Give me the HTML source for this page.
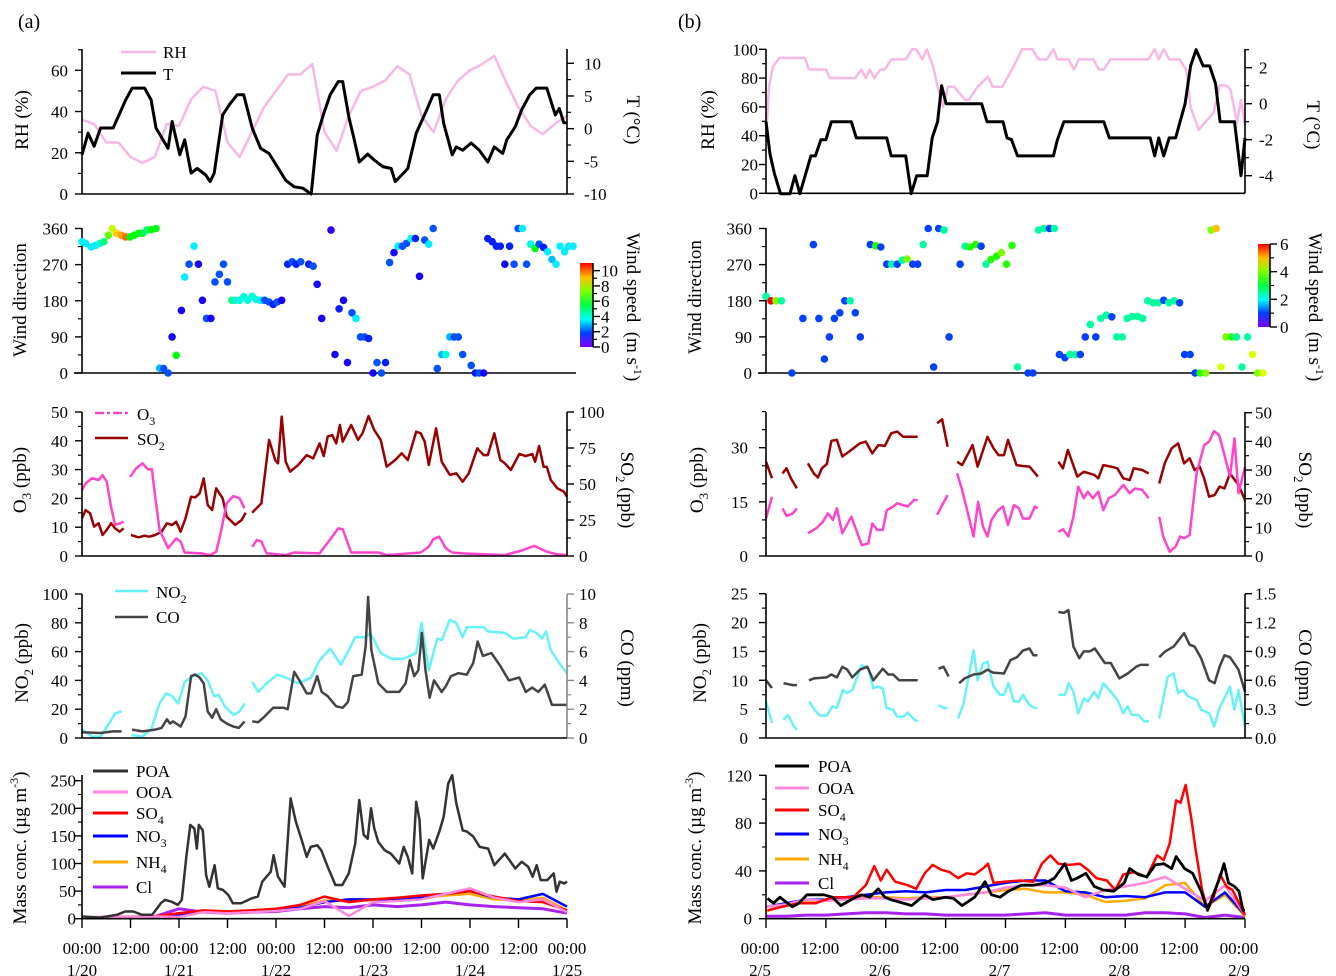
<!DOCTYPE html>
<html><head><meta charset="utf-8">
<style>
body{margin:0;background:#fff}
svg{display:block;font-family:"Liberation Serif",serif}
</style></head><body>
<svg id="chart" width="1336" height="976" viewBox="0 0 1336 976" xmlns="http://www.w3.org/2000/svg">
<defs>
<linearGradient id="cbar" x1="0" y1="1" x2="0" y2="0">
<stop offset="0" stop-color="hsl(270,100%,50%)"/><stop offset="0.17" stop-color="hsl(225,100%,50%)"/>
<stop offset="0.33" stop-color="hsl(180,100%,50%)"/><stop offset="0.5" stop-color="hsl(135,100%,50%)"/>
<stop offset="0.67" stop-color="hsl(90,100%,50%)"/><stop offset="0.83" stop-color="hsl(45,100%,50%)"/>
<stop offset="1" stop-color="hsl(0,100%,50%)"/>
</linearGradient>
</defs>
</svg>
<script>
// ===== LEFT (a) DATA =====
const rhHoursL=[0,3,6,9,12,15,18,21,24,27,30,33,36,39,42,45,48,51,54,57,60,63,66,69,72,75,78,81,84,87,90,93,96,99,102,105,108,111,114,117,120];
const rhL=[36,34,25,25,18,15,18,34,33,46,52,50,25,18,30,42,50,58,58,63,30,21,38,50,52,55,62,58,38,30,46,55,60,63,67,54,42,33,29,34,38];
const tHoursL=[0,1.5,3,4.6,7.7,9.3,10.8,12.4,15.5,17.1,18.3,21.3,22.3,24.2,25.4,27,28.5,30.6,31.7,32.7,34.8,36.4,38.4,40,42.1,44.2,46.3,50.4,52.5,54.6,56.7,58.2,59.8,61.4,63.4,64.5,66,67.1,68.6,70.7,72.3,74.4,76.5,77.5,79.1,80.6,82.7,85.3,86.9,88.4,89.5,91.6,92.6,94.2,96.3,98.3,100.4,102,104.1,105.1,107.2,108.8,110.8,112.4,115,117.1,118.1,119.2,120];
const tL=[-4,-0.7,-2.7,0.1,0.1,2.3,4.4,6.2,6.2,4.4,0.1,-3,1.1,-4,-1.7,-6.8,-6.1,-7.1,-8.1,-6.8,2.1,3.6,5.2,5.2,0.1,-3,-3.8,-7.9,-8.9,-9.1,-10,-1,2.3,5.2,7.2,7.2,1.8,-1,-5.1,-3.9,-4.8,-5.8,-6.1,-8.1,-7.1,-6.1,-0.7,2.9,5.2,5.2,0.8,-4,-2.8,-3.3,-2.2,-3.3,-5.1,-2.8,-3.8,-1.7,0.3,2.9,5.2,6.2,6.2,2.1,3.1,0.9,0.9];
const windHoursL=[0,0.9,2.3,3.3,4.4,5.4,6.5,7.5,8.5,9.8,10.8,11.9,12.9,14,15,16,17.1,18.3,19.2,20.2,21.3,22.3,23.3,24.6,25.4,26.5,27.7,28.8,29.8,30.8,31.9,32.9,34,35,36,37.1,37.9,39,40,41,42.1,43.1,44.2,45.2,46.3,47.3,48.3,49.4,50.9,52,53,54.1,56.1,57.2,58.2,59.3,61.6,62.6,63.6,64.7,65.7,66.8,67.8,68.9,69.9,70.9,72,73,74.1,75.1,76.1,77.2,78.2,79.3,80.3,81.4,82.5,83.5,84.8,85.8,86.9,87.9,89,90,91,92.1,93.1,94.2,96.3,97.3,98.3,99.4,100.4,101.5,102.5,103.5,104.6,105.8,106.9,107.9,109,110,111,112.1,113.1,114.2,115.2,116.3,117.3,118.3,119.4,120.4,121.5];
const windDirL=[327,323,314,318,323,327,343,360,348,343,339,339,343,348,348,356,357,360,12,11,0,90,44,156,239,271,316,271,181,136,136,227,246,271,227,181,181,181,190,181,191,183,181,181,177,171,177,181,271,277,271,277,271,266,221,136,356,46,160,181,26,150,136,90,90,86,0,26,0,26,275,300,316,316,323,335,335,241,331,321,360,11,46,46,90,90,90,46,19,0,0,0,335,327,316,316,271,316,271,360,360,271,321,310,321,313,302,283,271,316,302,316,316];
const windSpdL=[3.5,3.5,3.5,3.5,4,5,7,8,9,9.5,10,6,6,6,5.5,5,6,6,3,2,2,1,6,1,3.5,2,3.5,1,1,2,1,2,2,2,2,5,4,4,4,4,4,4,3.5,2,2,1.5,2,1,1.5,2,1.5,2,1.5,2,1,1,0.8,1,1.5,1,1,2,3.5,2,2,1.5,1,2,2,1.5,2,1,3.5,2,2,4,1.5,1,2,3.5,2,2,3,4,3,2,2,2,2,1.5,2,1,1.5,1.5,1.5,1.5,1,1.5,2,2,3.5,2,4,6,2,1.5,3.5,3,3.5,3.5,3.5,3.5,3.5];
const o3HoursL=[0,0.9,2.5,4.1,5.1,6.1,7.2,8.2,9.3,10.3,null,11.9,13.4,15,16.3,17.3,18.1,19.2,21.3,23.3,24.4,25.4,29.6,31.7,33.2,34.3,35.8,37.4,39,40.2,null,42.1,43.3,44.4,45.7,50.4,52.5,58.8,61.9,63.4,64.5,66.6,73.3,75.4,83.8,85.8,86.9,88.4,90,91.6,94.2,104.6,108.8,111.9,115,117.1,120];
const o3L=[22.9,25.2,27,26.4,28.1,25.8,17,10.8,11.3,11.9,null,27.5,30.4,32.2,30.1,30.1,20.6,9,2.7,6.1,5,1.2,0.9,0.3,1.5,7.9,18.3,20.8,20,16.6,null,3.2,5.6,5,0.9,0.3,1.2,0.9,6.7,9.6,9.3,1.2,1.2,0.3,1.2,3.2,5.8,6.7,2.7,1.2,0.9,0.3,1.9,3.5,1.5,0.7,0.3];
const so2HoursL=[0,0.9,2,3,4.1,5.1,6.1,7.2,8.2,9.3,10.3,null,12.1,14,15.5,16.6,18.1,19.7,21,22.3,23.3,24.4,25.6,27,28,29.1,30.1,31.1,32.2,33.2,34.8,35.8,37.9,39.5,40.5,null,42.1,44.4,46.3,47.8,48.5,49.4,50.4,51.5,53.5,55.6,57.2,58.8,59.8,60.8,61.9,62.9,63.8,64.5,66.6,68.3,69.4,70.9,72.3,73.9,75.4,77.5,79.1,80.6,82.7,83.8,84.8,85.8,87.6,89,91,92.6,94.2,95.7,97.8,99.4,100.4,102,103.5,104.6,106.1,108.2,109.8,111.4,112.1,113.1,114.2,115,116,117.6,119.2,120];
const so2L=[26.2,31.9,29.6,20.4,22.7,14.6,18.1,22.7,19.2,16.9,19.2,null,14.6,13,14.1,13.4,14.6,16.9,22.7,21.5,23.8,16.9,26.2,41.2,40.7,43.5,53.9,35.4,31.9,47,40,27.3,21.5,25,30.1,null,30.1,36.6,80.6,66.7,64.4,96.8,65.5,58.6,63.2,70.1,67.8,78.2,69.4,82.9,84,78.2,91,79.4,91,80.6,85.2,97.2,87.5,80.6,62,66.7,71.3,66.7,86.3,85.2,79.4,63.2,88.7,65.5,56.3,57.4,51.6,57.4,74.8,70.1,70.1,85.2,66.7,64.4,59.7,70.8,69.4,70.8,65.5,76.4,62,62,52.8,47,44.7,41.2];
const no2HoursL=[0,2.5,4.6,6.7,8.2,9.8,null,12.3,15,17.1,19.2,20.8,22.3,23.8,25.4,27.5,29.6,31.1,32.7,33.8,35.3,37.5,39,40.2,null,42.1,43.6,45.7,48.3,50.4,53.5,56.7,58.8,61.4,64,66,67.6,70.2,71.3,73.9,76.5,79.6,82.7,84,85.8,87.9,89,91,92.6,94.2,95.2,99.4,100.4,104.6,106.7,109.8,110.8,112.4,113.9,114.8,116,118.1,120];
const no2L=[6,1,1,10,17,18.5,null,2,1,6,24,31,29,24,39,43,45,40,29,30,22,16,18.5,24,null,39,32,38,44,42,38,42,54,62,51,61,70,70,73,59,55,55,59,80,47,69,68,82,80,70,77,77,74,73,69,70,75,73,69,74,61,52,45];
const coHoursL=[0,4.6,7.7,9.8,null,12.4,15,18.1,19.7,21,21.8,22.5,23.3,24.4,25.6,27,28,29.1,30.1,31.1,32.2,33.2,34.3,35.8,37.4,38.8,40.2,null,42.1,43.6,45.2,47.3,49.9,50.9,52.5,53.8,55.6,56.7,58.2,59.3,60.8,62.9,64.5,65.8,67.1,69.2,70.2,70.8,71.6,73.3,75.4,78.5,80.1,81.1,82.2,83.2,84.1,85,86,87.1,89,90,91.3,93.1,95.2,96.8,97.9,99.2,101.3,103.5,105.6,108.2,109.8,111.4,112.9,114.5,116.3,118.1,120];
const coL=[0.4,0.35,0.46,0.46,null,0.58,0.46,0.58,0.7,1.3,1,1.15,1,0.8,1.5,4.3,4.4,4.2,3.8,1.85,1.4,2,1.3,1,0.8,0.7,1.15,null,1.15,1.1,1.5,2.1,2.1,2,4.6,4,3.1,3.1,4.3,3.2,2.9,2.2,2.1,2.5,4.3,4.4,6.4,9.8,6.1,3.8,3.2,3.2,3.8,5.4,4.3,4.7,7.3,4.7,2.8,4,3.2,3.6,4.3,4.5,4.4,5.2,6.7,5.7,5.9,5,4,4.2,3.2,3.5,3.2,3.7,2.3,2.3,2.3];
const poaHoursL=[0,4.4,8.6,10.7,12.7,14.8,17.4,19.5,20.5,22.1,23.7,24.7,25.8,26.8,27.8,28.4,28.9,29.9,30.7,31.5,32.8,33.6,34.9,36.2,37.3,39.4,42,43.5,44.6,46.7,47.4,48.5,50.1,51.6,52.9,54.5,55.6,56.6,58.2,59.2,60.8,62.7,64.4,66,67.6,68.6,69.7,70.7,71.5,72.3,73.3,74.9,76.4,78.5,79.6,80.6,81.7,82.7,83.5,84.3,85.9,86.9,88.5,89.5,90.6,91.6,92.6,94.2,95.2,96.8,98.4,100.5,102,104.6,107.2,108.8,110.4,111.5,112.5,113.5,115.1,116.7,117.4,118.2,119.3,120];
const poaL=[4,2,7,13,13,7,7,28,34,31,25,34,112,170,163,127,170,160,79,58,97,55,52,43,28,28,37,40,67,85,115,76,58,218,176,139,112,130,133,124,94,61,61,82,136,215,152,145,200,164,139,124,118,100,130,112,82,212,179,73,143,127,160,185,245,260,209,160,158,149,130,127,97,118,91,103,94,76,97,70,70,82,49,67,64,67];
const minorHoursL=[0,6,12,18,24,30,36,42,48,54,60,66,72,78,84,90,96,102,108,114,120];
const so4L=[2,3,3,4,10,15,13,15,18,25,40,30,35,38,42,45,50,40,32,30,15];
const no3L=[1,2,2,3,8,12,12,14,16,20,30,35,35,35,38,45,50,38,35,45,22];
const nh4L=[2,2,3,4,10,14,13,15,18,22,33,32,34,35,38,42,45,35,33,38,15];
const ooaL=[3,3,3,4,3,12,10,12,14,18,32,5,30,32,35,45,55,38,30,35,12];
const clL=[2,2,3,4,18,12,10,12,13,18,22,20,25,22,25,30,25,22,20,18,10];
const xTickHoursL=[0,12,24,36,48,60,72,84,96,108,120];
const xTimeLabelsL=["00:00","12:00","00:00","12:00","00:00","12:00","00:00","12:00","00:00","12:00","00:00"];
const xDateLabelsL=["1/20","","1/21","","1/22","","1/23","","1/24","","1/25"];

// ===== RIGHT (b) DATA =====
const rhHoursR=[0,0.6,1.4,2.7,7.8,8.6,12,12.8,17.9,19.1,20,20.8,21.7,22.9,23.8,25.1,28,29.3,30.1,31.3,32.2,33.5,34.4,35.5,36.5,37.7,39.9,40.7,42.4,44.5,45.4,47.4,49.6,51.3,53.4,54.6,56.3,57.6,58.4,60.6,61.7,62.7,65.6,66.7,67.7,69,76.6,77.9,78.7,79.7,80.8,82.9,84.2,85.1,86.7,88.4,89.7,90.9,92.2,93.1,94.4,95.2,96];
const rhR=[38,74,88,94,94,86,86,80,80,86,80,86,80,86,86,93,93,100,100,93,100,88,74,60,74,74,65,65,74,81,74,74,88,100,100,93,93,100,93,93,86,93,93,86,86,93,93,100,93,100,93,93,86,60,44,51,56,75,75,72,49,65,47];
const tHoursR=[0,0.8,1.7,2.9,4.8,5.8,6.8,9,9.9,11,12,13.1,17.1,18.1,24.2,25.1,28,29.1,30.2,32.3,33.3,34.4,35.2,36.1,43.2,44.3,47.5,48.3,49.2,50.4,57.6,58.4,59.7,67.7,68.8,77,77.9,78.7,79.7,80.8,82.1,84,85.1,86.2,87.6,88.9,90.1,91,93.9,95.2,96];
const tR=[-1,-2.8,-3.9,-5,-5,-4,-5,-2.9,-2.9,-2,-2,-1,-1,-1.9,-1.9,-2.9,-2.9,-5,-4,-4,-1.9,-1,1,0,0,-1,-1,-1.9,-2,-2.9,-2.9,-2,-1,-1,-1.9,-1.9,-2.9,-1.9,-2.9,-1.9,-1.9,0,2.1,3,2.1,2.1,1.1,-1,-1,-4,-1.9];
const windHoursR=[0,1,2,3.1,5.2,7.4,9.5,10.6,11.7,12.7,13.7,14.8,15.8,16.9,17.9,18.9,20.9,22,23,24.2,25.2,26.3,27.3,28.3,29.4,30.4,31.5,32.5,33.6,34.6,35.7,36.7,38.9,39.9,40.9,42,43.1,44.1,45.1,46.2,47.2,48.2,49.3,50.4,52.5,53.5,54.6,55.7,56.8,57.8,58.8,59.9,60.9,62,63,64,65,66.1,67.1,68.2,69.3,70.3,71.4,72.4,73.4,74.5,75.5,76.5,77.6,78.6,79.7,80.7,81.8,82.9,83.9,85,86,87,88.1,89.2,90.2,91.2,92.2,93.3,94.3,95.4,96.5,97.5,98.5,99.6];
const windDirR=[191,180,180,180,0,136,320,136,35,90,136,150,180,180,150,90,320,317,314,271,271,271,281,284,271,271,320,360,15,360,356,90,271,316,314,320,316,271,283,291,300,271,318,15,0,0,356,360,360,360,46,38,46,46,46,90,121,90,136,144,140,90,90,136,141,141,136,180,175,175,181,175,180,175,46,46,0,0,0,356,360,15,90,90,90,15,90,46,0,0];
const windSpdR=[2.5,6,4,2.5,1,1,1,1,1,1,1,1,1,2.5,1,1,1,3.5,1,1,2.5,1,2.5,4,1,1,2.5,1,1,1,2.5,1,1,2.5,3.5,3.5,1,2.5,3.5,3.5,4,3.5,3.5,2.5,1,1,2.5,2.5,1,2.5,1,1,2.5,2.5,1,1,2.5,1,2.5,2.5,1,2.5,2.5,2.5,2.5,2.5,2.5,2.5,2.5,2.5,1,2.5,2.5,1,1,1,1,3.5,4,4,5,4.5,4,3.5,2.5,2.5,2.5,4.5,4,4.5];
const o3HoursR=[0,1.2,null,3.3,4.1,5.4,6.2,null,8.4,10.1,11.4,12.4,13.4,14.2,15.3,17.1,19.2,20.5,21.3,22.3,23.4,24.2,25.5,26.3,28.4,29.7,30.4,null,34.3,36.4,null,38.3,39.3,41.6,42.5,43.5,44.4,45.2,46.5,47.5,48.5,49.7,50.7,51.5,52.8,53.9,54.5,null,58.6,59.5,60.6,61.6,62.6,63.7,64.5,65.5,66.6,67.6,68.7,69.9,71.6,72.9,74,75.4,76.7,null,78.8,79.6,80.9,82.1,83,83.8,84.9,86.3,87.8,88.8,89.8,90.8,91.8,93,93.9,94.7,96];
const o3R=[10.4,16.4,null,13.2,11.1,11.8,13.2,null,6.3,7.7,9.5,11.8,10,13.2,6.3,10.9,3,3.5,9,7.2,7.2,12.7,13.7,14.6,13.7,15.5,15.5,null,11.4,16.9,null,22.9,18.3,5.4,15,8.1,5.4,10,12.7,13.7,8.6,14.1,13.2,10.4,10.4,13.7,13.2,null,6.7,7.4,5.4,10.9,19.2,16,17.8,16,17.8,12.7,16,16.9,19.7,17.4,18.7,18.3,16,null,10.9,5.4,1.2,2.6,5.4,4.9,5.8,22.9,30.7,31.7,34.6,33.5,28.4,22,32.6,17.4,24.7];
const so2HoursR=[0,1.2,null,3.3,4.1,5,6.2,null,8.4,9.6,10.4,11.2,12.2,13.1,14.2,15.3,17.1,18.8,20,21.3,22.5,23.8,25.1,26.3,27.5,28.9,30.4,null,34.3,35.3,36.4,null,38.3,39.3,41.4,42.4,44.4,45.6,46.6,47.7,48.5,50.2,51.5,52.8,54.5,null,58.6,59.5,60.5,62.4,63.7,65.8,66.6,67.6,69.1,70.4,71.6,72.9,73.7,75.4,76.7,null,78.8,79.9,81.3,82.6,83.8,84.9,85.9,86.9,87.8,88.8,89.9,90.9,91.9,93,94.7,96];
const so2R=[32.9,27.1,null,28.8,30.6,27.1,23.6,null,32.3,28.8,27.4,30.6,32.1,40.2,40.5,34.7,37,39.3,39.9,35.8,38.7,38.4,42.8,43.4,41.6,41.6,41.6,null,46.3,47.7,38.1,null,32.9,31.7,38.7,31.2,41.6,37.6,35.2,35.2,40.5,31.7,31.4,31.2,27.7,null,32.9,30.6,37,27.7,29.4,28.3,27.1,31.7,31.2,30.6,27.1,26.5,30.6,30,28.8,null,25.3,32.3,37.6,39.3,32.3,34.1,30,31.2,27.1,20.7,21.3,24.2,23.6,28.8,24.8,19.5];
const no2HoursR=[0,1.2,null,3.5,4.4,5.4,6.2,null,8.6,10,10.8,12.2,13.3,14.2,15.4,16.3,17.3,19.2,20.5,21.5,22.3,23.4,24.2,25.5,26.3,27.6,28.4,29.7,30.4,null,34.6,35.6,36.4,null,38.5,39.6,41.6,42.4,43.5,44.4,45.6,46.9,47.7,48.6,49.7,50.7,51.5,52.8,53.9,54.4,null,58.6,59.9,60.7,61.6,62.6,63.7,64.5,65.8,66.6,67.6,69.1,70.4,71.6,72.5,73.3,74.6,75.8,76.7,null,78.8,80.5,81.7,82.6,83.6,84.6,86.3,87.2,88.8,89.8,90.9,93,93.9,94.7,96];
const no2R=[6.3,2.6,null,3.2,4,2.3,1.4,null,6.3,4.6,3.9,3.9,5.5,5.2,8.3,7.8,8.3,12.6,12.1,8.6,8.9,8.6,5.2,4.9,3.7,3.7,4.4,3.2,2.9,null,5.7,5.2,5.2,null,3.4,6,15.2,10,12.9,13.2,8.9,7.5,7.5,9.5,6.3,6.3,7.5,5.7,5.2,5.2,null,7.5,7.5,9.5,8,4.3,6.9,6.3,8,6.9,9.5,8,6.6,4.3,5.5,4,4,2.9,2.9,null,3.4,10.6,11.2,7.8,8.3,7.2,6.6,4.9,4.3,2,5.2,8.9,4.9,8.3,2];
const coHoursR=[0,1.2,null,3.5,5.4,6.2,null,8.6,9.6,12.1,13.1,14.2,15.3,16.3,17.3,18.8,20.3,21.5,23.4,24.5,25.5,26.7,28.9,30.4,null,34.6,35.6,36.6,null,38.7,39.8,41.6,43.1,44.4,45.5,47.7,49,50.3,51.5,52.8,53.6,54.4,null,58.6,59.7,60.6,61.6,62.8,63.7,64.9,65.9,67.9,69.1,70.8,72.5,74.2,75,76.7,null,78.8,80,81.7,83.8,84.9,85.9,87.2,88.8,89.9,90.9,91.9,93,94.7,96];
const coR=[0.6,0.52,null,0.57,0.55,0.55,null,0.6,0.62,0.63,0.66,0.63,0.74,0.71,0.63,0.71,0.74,0.6,0.72,0.66,0.66,0.6,0.6,0.6,null,0.72,0.74,0.64,null,0.57,0.62,0.66,0.67,0.71,0.68,0.67,0.81,0.84,0.91,0.93,0.86,0.86,null,1.31,1.3,1.33,0.95,0.83,0.9,0.9,0.93,0.78,0.78,0.62,0.67,0.74,0.76,0.76,null,0.84,0.9,0.95,1.09,0.97,0.95,0.83,0.6,0.57,0.74,0.86,0.84,0.71,0.48];
const poaHoursR=[0.3,1.5,2.8,4,5.3,6.6,8.2,11.6,13.3,15,17.5,19.2,20.8,22.5,23.8,25,26.7,29.2,31.8,33.4,36,37.6,39.3,41.8,43.9,45.2,46.9,48.6,51.1,53.6,56.1,57.8,59.9,61.2,62.4,64.1,65.8,67.6,69.7,71.8,72.9,74.6,76.3,78,79.7,81.3,82.2,83.9,85.5,87.2,88.5,89.7,91,91.8,92.7,93.9,94.8,95.6,96];
const poaR=[17,13,18,14,10,13,20,20,18,11,17,20,18,25,18,16,14,11,20,16,18,17,11,18,31,20,18,23,28,28,30,34,46,32,34,38,27,24,23,30,42,37,35,45,46,42,52,42,38,23,7,21,35,46,30,27,23,7,7];
const so4HoursR=[0.3,3.2,6.6,10,13.3,17.5,20,21.7,23,24.2,25.9,28.4,30.1,31.8,33.4,35.1,36.8,38.5,40.2,41.8,43.5,44.5,45.6,47.7,51.1,53.6,55.3,57,58.6,60.8,62.9,64.5,66.2,68.3,70,71.6,73.8,76.3,78.4,79.7,80.9,82.2,83.1,84.1,85.2,86.1,87.4,88.5,89.7,91,92.3,93.5,94.8,96];
const so4R=[7,10,13,13,18,18,28,44,32,41,31,28,25,38,45,41,39,34,38,37,42,46,30,31,32,31,46,53,46,45,46,41,34,32,24,37,39,35,53,49,63,99,97,112,85,58,24,7,18,37,27,24,13,3];
const minorHoursR=[0,4,8,12,16,20,24,28,32,36,40,44,48,52,56,60,64,68,72,76,80,84,88,92,96];
const ooaR=[10,12,16,15,16,17,17,16,17,18,20,22,26,28,28,26,18,24,27,30,35,25,15,28,3];
const no3R=[10,13,16,16,18,20,22,23,22,24,24,27,30,32,32,23,22,18,19,18,22,22,10,22,3];
const nh4R=[6,12,15,15,17,18,18,17,18,18,20,22,24,25,22,22,20,14,15,17,28,30,10,20,2];
const clR=[2,2,3,3,4,5,5,4,4,3,3,3,3,4,5,3,3,3,3,5,5,4,1,3,1];
const xTickHoursR=[0,12,24,36,48,60,72,84,96];
const xTimeLabelsR=["00:00","12:00","00:00","12:00","00:00","12:00","00:00","12:00","00:00"];
const xDateLabelsR=["2/5","","2/6","","2/7","","2/8","","2/9"];

// ===== DRAWING =====
const NS='http://www.w3.org/2000/svg';
const svg=document.getElementById('chart');
function mk(tag,a,parent){const e=document.createElementNS(NS,tag);for(const k in a)e.setAttribute(k,a[k]);(parent||svg).appendChild(e);return e;}
function sc(v0,y0,v1,y1){return v=>y0+(v-v0)*(y1-y0)/(v1-v0);}
const XL=h=>82+h*485/120, XR=h=>766+h*479/96;

function series(hours,vals,xf,yf,color,w,name){
  let d='',pen=false;
  for(let i=0;i<hours.length;i++){
    if(hours[i]===null||vals[i]===null||vals[i]===undefined){pen=false;continue;}
    d+=(pen?'L':'M')+xf(hours[i]).toFixed(1)+','+yf(vals[i]).toFixed(1);pen=true;
  }
  const p=mk('path',{d:d,fill:'none',stroke:color,'stroke-width':w,'stroke-linejoin':'round'});
  
  
  return p;
}
function txt(x,y,html,a,name){
  const t=mk('text',Object.assign({x:x,y:y,'font-size':17,fill:'#000'},a||{}));
  t.innerHTML=html;
  
  
  return t;
}
function vlabel(cx,cy,html,side,name){
  const rot=side==='left'?-90:90, dx=side==='left'?6:-6;
  const t=mk('text',{transform:'translate('+(cx+dx)+','+cy+') rotate('+rot+')','text-anchor':'middle','font-size':19,fill:'#000'});
  t.innerHTML=html;
  
  
}
function yaxis(x,yb,yt,yf,ticks,labels,minors,side,off,color,name){
  const g=mk('g',{});
  
  
  mk('line',{x1:x,y1:yb,x2:x,y2:yt,stroke:color,'stroke-width':1.6},g);
  const s=side==='left'?-1:1;
  ticks.forEach((v,i)=>{const y=yf(v);
    mk('line',{x1:x,y1:y,x2:x+s*7,y2:y,stroke:color,'stroke-width':1.4},g);
    const t=mk('text',{x:x+s*off,y:y+6,'font-size':17,'text-anchor':side==='left'?'end':'start',fill:'#000'},g);
    t.textContent=labels[i];});
  minors.forEach(v=>{const y=yf(v);mk('line',{x1:x,y1:y,x2:x+s*4,y2:y,stroke:color,'stroke-width':1.2},g);});
}
function xaxis(x0,x1,y,name){
  const l=mk('line',{x1:x0,y1:y,x2:x1,y2:y,stroke:'#000','stroke-width':1.6});
  
  
}
function legendLine(x0,x1,y,color,w,dash,name){
  const a={x1:x0,y1:y,x2:x1,y2:y,stroke:color,'stroke-width':w};
  if(dash)a['stroke-dasharray']=dash;
  const l=mk('line',a);
  
  
}
function hueColor(t){if(!(t>=0))t=0.3;t=Math.max(0,Math.min(1,t));return 'hsl('+(270*(1-t)).toFixed(0)+',100%,50%)';}

txt(18,28,'(a)',{'font-size':20},'panel-label-a');
txt(678,28,'(b)',{'font-size':20},'panel-label-b');

// ---------- LEFT P1 ----------
const yRHL=sc(0,194,60,70.3), yTL=sc(-10,194,10,63.3);
series(rhHoursL,rhL,XL,yRHL,'#f8b8e6',2.5,'rh-line-a');
series(tHoursL,tL,XL,yTL,'#000',3,'t-line-a');
yaxis(82,194,49,yRHL,[0,20,40,60],['0','20','40','60'],[10,30,50,70],'left',14,'#000','rh-axis-a');
yaxis(567,194,49,yTL,[-10,-5,0,5,10],['-10','-5','0','5','10'],[-7.5,-2.5,2.5,7.5],'right',17,'#000','t-axis-a');
xaxis(82,567,194,'x-axis-p1-a');
vlabel(22,120,'RH (%)','left','rh-axis-title-a');
vlabel(633,120,'T (°C)','right','t-axis-title-a');
legendLine(121,156,52,'#f8b8e6',2.5,null,'legend-rh-a');txt(163,58,'RH',{},'legend-rh-label-a');
legendLine(121,156,73,'#000',3,null,'legend-t-a');txt(163,80,'T',{},'legend-t-label-a');

// ---------- LEFT P2 wind ----------
const yWL=sc(0,373,360,228.5);
yaxis(82,373,228,yWL,[0,90,180,270,360],['0','90','180','270','360'],[45,135,225,315],'left',14,'#000','wind-dir-axis-a');
xaxis(74,576,373,'x-axis-p2-a');
windHoursL.forEach((h,i)=>{
  const c=mk('circle',{cx:XL(h).toFixed(1),cy:yWL(windDirL[i]).toFixed(1),r:3.8,fill:hueColor(windSpdL[i]/11)});
  
  
});
const cbL=mk('rect',{x:580,y:263,width:13,height:84,fill:'url(#cbar)'});


const yCbL=sc(0,347,11,263);
yaxis(593,347,263,yCbL,[0,2,4,6,8,10],['0','2','4','6','8','10'],[1,3,5,7,9],'right',8,'#000','colorbar-axis-a');
vlabel(20,300,'Wind direction','left','wind-dir-title-a');
vlabel(633,307,'Wind speed &#160;(m s<tspan dy="-7" font-size="12">-1</tspan><tspan dy="7">)</tspan>','right','wind-speed-title-a');

// ---------- LEFT P3 O3/SO2 ----------
const yO3L=sc(0,556,50,412), ySO2L=sc(0,556,100,412);
series(so2HoursL,so2L,XL,ySO2L,'#990000',2.5,'so2-line-a');
series(o3HoursL,o3L,XL,yO3L,'#ff44cc',2.5,'o3-line-a');
yaxis(82,556,412,yO3L,[0,10,20,30,40,50],['0','10','20','30','40','50'],[5,15,25,35,45],'left',14,'#000','o3-axis-a');
yaxis(567,556,412,ySO2L,[0,25,50,75,100],['0','25','50','75','100'],[12.5,37.5,62.5,87.5],'right',12,'#000','so2-axis-a');
xaxis(82,567,556,'x-axis-p3-a');
vlabel(20,480,'O<tspan dy="5" font-size="13">3</tspan><tspan dy="-5"> (ppb)</tspan>','left','o3-axis-title-a');
vlabel(627,490,'SO<tspan dy="5" font-size="13">2</tspan><tspan dy="-5"> (ppb)</tspan>','right','so2-axis-title-a');
legendLine(95,128,413,'#ff44cc',2.5,'9,3,3,3','legend-o3-a');txt(137,420,'O<tspan dy="5" font-size="12">3</tspan>',{},'legend-o3-label-a');
legendLine(95,128,438,'#990000',2.5,null,'legend-so2-a');txt(137,445,'SO<tspan dy="5" font-size="12">2</tspan>',{},'legend-so2-label-a');

// ---------- LEFT P4 NO2/CO ----------
const yNO2L=sc(0,738,100,594), yCOL=sc(0,738,10,594);
series(no2HoursL,no2L,XL,yNO2L,'#66f2f8',2.5,'no2-line-a');
series(coHoursL,coL,XL,yCOL,'#444',2.5,'co-line-a');
yaxis(82,738,594,yNO2L,[0,20,40,60,80,100],['0','20','40','60','80','100'],[10,30,50,70,90],'left',14,'#000','no2-axis-a');
yaxis(567,738,594,yCOL,[0,2,4,6,8,10],['0','2','4','6','8','10'],[1,3,5,7,9],'right',12,'#888','co-axis-a');
xaxis(82,567,738,'x-axis-p4-a');
vlabel(22,663,'NO<tspan dy="5" font-size="13">2</tspan><tspan dy="-5"> (ppb)</tspan>','left','no2-axis-title-a');
vlabel(627,668,'CO (ppm)','right','co-axis-title-a');
legendLine(115,148,591,'#66f2f8',2.5,null,'legend-no2-a');txt(156,598,'NO<tspan dy="5" font-size="12">2</tspan>',{},'legend-no2-label-a');
legendLine(115,148,617,'#444',2.5,null,'legend-co-a');txt(156,623,'CO',{},'legend-co-label-a');

// ---------- LEFT P5 mass ----------
const yML=sc(0,918.7,250,780.7);
series(minorHoursL,clL,XL,yML,'#aa22ee',3,'cl-line-a');
series(minorHoursL,nh4L,XL,yML,'#ffaa00',2.5,'nh4-line-a');
series(minorHoursL,no3L,XL,yML,'#0000ff',2.5,'no3-line-a');
series(minorHoursL,so4L,XL,yML,'#ff0000',2.5,'so4-line-a');
series(minorHoursL,ooaL,XL,yML,'#ff88dd',2.5,'ooa-line-a');
series(poaHoursL,poaL,XL,yML,'#333',2.5,'poa-line-a');
yaxis(82,918.7,775,yML,[0,50,100,150,200,250],['0','50','100','150','200','250'],[25,75,125,175,225],'left',6,'#000','mass-axis-a');
xaxis(82,567,918.7,'x-axis-a');
xTickHoursL.forEach((h,i)=>{
  const tk=mk('line',{x1:XL(h),y1:918.7,x2:XL(h),y2:928,stroke:'#000','stroke-width':1.4});
  
  
  txt(XL(h),954,xTimeLabelsL[i],{'text-anchor':'middle'},'x-tick-label-a');
  if(xDateLabelsL[i])txt(XL(h),976,xDateLabelsL[i],{'text-anchor':'middle'},'x-date-label-a');
});
vlabel(20,848,'Mass conc. (µg m<tspan dy="-8" font-size="12">-3</tspan><tspan dy="8">)</tspan>','left','mass-axis-title-a');
const legA=[['POA','#333',771],['OOA','#ff88dd',792],['SO<tspan dy="5" font-size="12">4</tspan>','#ff0000',813],['NO<tspan dy="5" font-size="12">3</tspan>','#0000ff',836],['NH<tspan dy="5" font-size="12">4</tspan>','#ffaa00',862],['Cl','#aa22ee',887]];
legA.forEach(e=>{legendLine(93,128,e[2],e[1],3,null,'legend-species-a');txt(136,e[2]+6,e[0],{},'legend-species-label-a');});

// ---------- RIGHT P1 ----------
const yRHR=sc(0,193.3,100,49.3), yTR=sc(0,103.7,2,67.7);
series(rhHoursR,rhR,XR,yRHR,'#f8b8e6',2.5,'rh-line-b');
series(tHoursR,tR,XR,yTR,'#000',3,'t-line-b');
yaxis(766,193.3,49,yRHR,[0,20,40,60,80,100],['0','20','40','60','80','100'],[10,30,50,70,90],'left',8,'#000','rh-axis-b');
yaxis(1245,193.3,49,yTR,[-4,-2,0,2],['-4','-2','0','2'],[-3,-1,1,3],'right',14,'#000','t-axis-b');
xaxis(766,1245,193.3,'x-axis-p1-b');
vlabel(708,120,'RH (%)','left','rh-axis-title-b');
vlabel(1313,125,'T (°C)','right','t-axis-title-b');

// ---------- RIGHT P2 wind ----------
const yWR=sc(0,373,360,228.5);
yaxis(766,373,228,yWR,[0,90,180,270,360],['0','90','180','270','360'],[45,135,225,315],'left',14,'#000','wind-dir-axis-b');
xaxis(758,1266,373,'x-axis-p2-b');
windHoursR.forEach((h,i)=>{
  const c=mk('circle',{cx:XR(h).toFixed(1),cy:yWR(windDirR[i]).toFixed(1),r:3.8,fill:hueColor(windSpdR[i]/6)});
  
  
});
const cbR=mk('rect',{x:1258,y:244,width:12,height:83,fill:'url(#cbar)'});


const yCbR=sc(0,327,6,244);
yaxis(1270,327,244,yCbR,[0,2,4,6],['0','2','4','6'],[1,3,5],'right',10,'#000','colorbar-axis-b');
vlabel(695,297,'Wind direction','left','wind-dir-title-b');
vlabel(1315,307,'Wind speed &#160;(m s<tspan dy="-7" font-size="12">-1</tspan><tspan dy="7">)</tspan>','right','wind-speed-title-b');

// ---------- RIGHT P3 ----------
const yO3R=sc(0,556,30,447.7), ySO2R=sc(0,556,50,412.7);
series(so2HoursR,so2R,XR,ySO2R,'#990000',2.5,'so2-line-b');
series(o3HoursR,o3R,XR,yO3R,'#ff44cc',2.5,'o3-line-b');
yaxis(766,556,412,yO3R,[0,15,30],['0','15','30'],[5,10,20,25,35,40],'left',18,'#000','o3-axis-b');
yaxis(1245,556,412,ySO2R,[0,10,20,30,40,50],['0','10','20','30','40','50'],[5,15,25,35,45],'right',10,'#000','so2-axis-b');
xaxis(766,1245,556,'x-axis-p3-b');
vlabel(697,480,'O<tspan dy="5" font-size="13">3</tspan><tspan dy="-5"> (ppb)</tspan>','left','o3-axis-title-b');
vlabel(1305,490,'SO<tspan dy="5" font-size="13">2</tspan><tspan dy="-5"> (ppb)</tspan>','right','so2-axis-title-b');

// ---------- RIGHT P4 ----------
const yNO2R=sc(0,738,25,593.7), yCOR=sc(0,738,1.5,593.7);
series(no2HoursR,no2R,XR,yNO2R,'#66f2f8',2.5,'no2-line-b');
series(coHoursR,coR,XR,yCOR,'#444',2.5,'co-line-b');
yaxis(766,738,594,yNO2R,[0,5,10,15,20,25],['0','5','10','15','20','25'],[2.5,7.5,12.5,17.5,22.5],'left',18,'#000','no2-axis-b');
yaxis(1245,738,594,yCOR,[0,0.3,0.6,0.9,1.2,1.5],['0.0','0.3','0.6','0.9','1.2','1.5'],[0.15,0.45,0.75,1.05,1.35],'right',10,'#000','co-axis-b');
xaxis(766,1245,738,'x-axis-p4-b');
vlabel(700,663,'NO<tspan dy="5" font-size="13">2</tspan><tspan dy="-5"> (ppb)</tspan>','left','no2-axis-title-b');
vlabel(1305,668,'CO (ppm)','right','co-axis-title-b');

// ---------- RIGHT P5 ----------
const yMR=sc(0,918.7,120,775.3);
series(minorHoursR,clR,XR,yMR,'#aa22ee',3,'cl-line-b');
series(minorHoursR,nh4R,XR,yMR,'#ffaa00',2.5,'nh4-line-b');
series(minorHoursR,no3R,XR,yMR,'#0000ff',2.5,'no3-line-b');
series(minorHoursR,ooaR,XR,yMR,'#ff88dd',2.5,'ooa-line-b');
series(so4HoursR,so4R,XR,yMR,'#ff0000',2.5,'so4-line-b');
series(poaHoursR,poaR,XR,yMR,'#000',2.8,'poa-line-b');
yaxis(766,918.7,775,yMR,[0,40,80,120],['0','40','80','120'],[20,60,100],'left',14,'#000','mass-axis-b');
xaxis(766,1245,918.7,'x-axis-b');
xTickHoursR.forEach((h,i)=>{
  const tk=mk('line',{x1:XR(h),y1:918.7,x2:XR(h),y2:928,stroke:'#000','stroke-width':1.4});
  
  
  txt(XR(h)-6,954,xTimeLabelsR[i],{'text-anchor':'middle'},'x-tick-label-b');
  if(xDateLabelsR[i])txt(XR(h)-6,976,xDateLabelsR[i],{'text-anchor':'middle'},'x-date-label-b');
});
vlabel(695,848,'Mass conc. (µg m<tspan dy="-8" font-size="12">-3</tspan><tspan dy="8">)</tspan>','left','mass-axis-title-b');
const legB=[['POA','#000',766],['OOA','#ff88dd',788],['SO<tspan dy="5" font-size="12">4</tspan>','#ff0000',810],['NO<tspan dy="5" font-size="12">3</tspan>','#0000ff',834],['NH<tspan dy="5" font-size="12">4</tspan>','#ffaa00',859],['Cl','#aa22ee',883]];
legB.forEach(e=>{legendLine(775,809,e[2],e[1],3,null,'legend-species-b');txt(818,e[2]+6,e[0],{},'legend-species-label-b');});
</script>
</body></html>
